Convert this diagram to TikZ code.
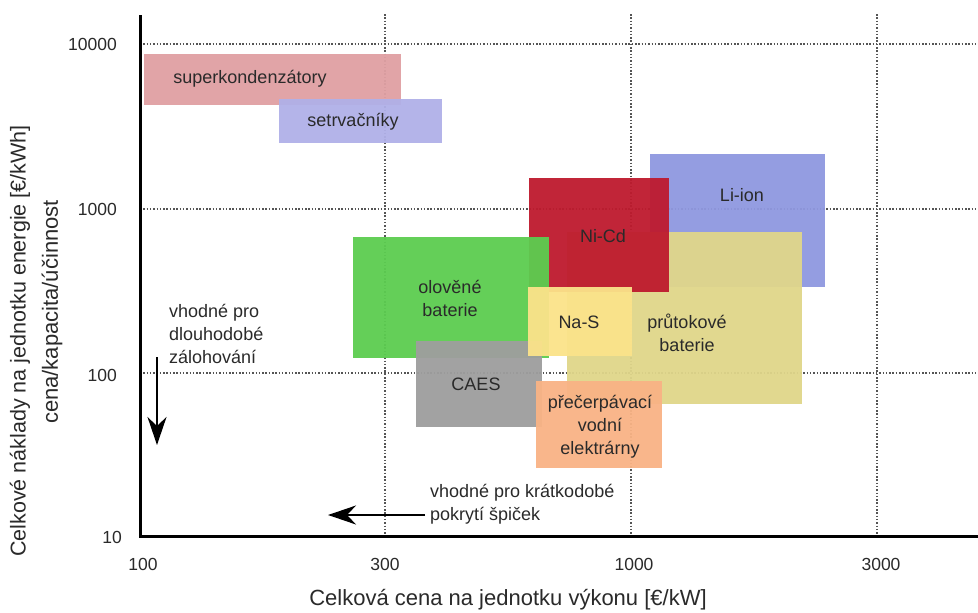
\documentclass[tikz,border=0pt]{standalone}
\usepackage{fontspec}
\setmainfont{Liberation Sans}
\usetikzlibrary{arrows.meta}
\definecolor{cPink}{HTML}{E0A0A3}
\definecolor{cLav}{HTML}{B0B0E8}
\definecolor{cLi}{HTML}{8F98E0}
\definecolor{cKhaki}{HTML}{E0D68A}
\definecolor{cRed}{HTML}{BE1A2E}
\definecolor{cGreen}{HTML}{5CCD50}
\definecolor{cGray}{HTML}{9E9E9E}
\definecolor{cYellow}{HTML}{FBE38A}
\definecolor{cOrange}{HTML}{F9B385}
\definecolor{cText}{HTML}{2A2A2A}
\definecolor{cGrid}{HTML}{555555}
\begin{document}
\begin{tikzpicture}[x=1pt,y=-1pt,
  gridline/.style={draw=cGrid, line width=1.5pt, dash pattern=on 1.5pt off 1.8pt},
  areabox/.style={fill opacity=0.95},
  boxlabel/.style={font=\fontsize{18}{23}\selectfont, text=cText, align=center, inner sep=0pt},
  annot/.style={font=\fontsize{18}{23}\selectfont, text=cText, align=left, anchor=west, inner sep=0pt},
  ticklabel/.style={font=\fontsize{17.5}{21}\selectfont, text=cText, inner sep=0pt},
  axtitle/.style={font=\fontsize{22}{26}\selectfont, text=cText, inner sep=0pt},
  axisline/.style={draw=black, line width=3pt},
  hintarrow/.style={draw=black, line width=2pt, -{Stealth[length=28pt,width=19pt,inset=9pt]}}
]
\useasboundingbox[fill=white] (0,0) rectangle (978,613);

% grid
\coordinate (g1a) at (140,44);  \coordinate (g1b) at (978,44);
\coordinate (g2a) at (140,209); \coordinate (g2b) at (978,209);
\coordinate (g3a) at (140,373); \coordinate (g3b) at (978,373);
\coordinate (v1a) at (385,14);  \coordinate (v1b) at (385,536);
\coordinate (v2a) at (631,14);  \coordinate (v2b) at (631,536);
\coordinate (v3a) at (877,14);  \coordinate (v3b) at (877,536);
\draw[gridline] (g1a) -- (g1b);
\draw[gridline] (g2a) -- (g2b);
\draw[gridline] (g3a) -- (g3b);
\draw[gridline] (v1a) -- (v1b);
\draw[gridline] (v2a) -- (v2b);
\draw[gridline] (v3a) -- (v3b);

% areas (back to front)
\fill[areabox, cPink] (144,54) rectangle (401,105);
\fill[areabox, cLav] (279,99) rectangle (442,143);
\fill[areabox, cLi] (650,154) rectangle (825,287);
\fill[areabox, cKhaki] (567,232) rectangle (802,404);
\fill[areabox, cRed] (529,178) rectangle (669,292);
\fill[areabox, cGreen] (353,237) rectangle (549,358);
\fill[areabox, cGray] (416,341) rectangle (542,427);
\fill[areabox, cYellow] (528,287) rectangle (632,356);
\fill[areabox, cOrange] (536,381) rectangle (662,468);

% labels
\node[boxlabel] (lsk) at (250,79) {superkondenzátory};
\node[boxlabel] (lsv) at (353,122) {setrvačníky};
\node[boxlabel] (lli) at (742,195) {Li-ion};
\node[boxlabel] (lpr) at (687,333) {průtokové\\baterie};
\node[boxlabel] (lni) at (603,236) {Ni-Cd};
\node[boxlabel] (lol) at (450,298) {olověné\\baterie};
\node[boxlabel] (lca) at (476,384) {CAES};
\node[boxlabel] (lna) at (579,322) {Na-S};
\node[boxlabel] (lpc) at (600,427) {přečerpávací\\vodní\\elektrárny};

% hints
\node[annot] (hlong) at (169,334) {vhodné pro\\dlouhodobé\\zálohování};
\node[annot] (hshort) at (430,504.5) {vhodné pro krátkodobé\\pokrytí špiček};
\coordinate (da) at (157,357); \coordinate (db) at (157,445);
\coordinate (la) at (425,515); \coordinate (lb) at (328,515);
\draw[hintarrow] (da) -- (db);
\draw[hintarrow] (la) -- (lb);

% axes
\coordinate (ytop) at (140,15);
\coordinate (orig) at (140,536);
\coordinate (xend) at (978,536);
\draw[axisline] (ytop) -- (orig) -- (xend);

% tick labels
\node[ticklabel, anchor=east] (y4) at (117,44) {10000};
\node[ticklabel, anchor=east] (y3) at (117,209) {1000};
\node[ticklabel, anchor=east] (y2) at (117,375) {100};
\node[ticklabel, anchor=east] (y1) at (122,537) {10};
\node[ticklabel] (x1) at (143,564) {100};
\node[ticklabel] (x2) at (385,564) {300};
\node[ticklabel] (x3) at (634,564) {1000};
\node[ticklabel] (x4) at (881,564) {3000};

% axis titles
\node[axtitle] (xt) at (508,600) {Celková cena na jednotku výkonu [€/kW]};
\node[axtitle, rotate=90, font=\fontsize{21.5}{26}\selectfont] (yt1) at (20,341) {Celkové náklady na jednotku energie [€/kWh]};
\node[axtitle, rotate=90] (yt2) at (52,312) {cena/kapacita/účinnost};
\end{tikzpicture}
\end{document}
